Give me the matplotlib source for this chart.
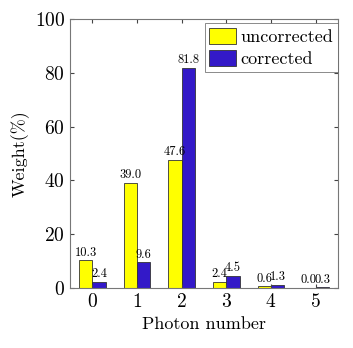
import matplotlib
matplotlib.use("Agg")
import matplotlib.pyplot as plt
import numpy as np

photon_number = [0, 1, 2, 3, 4, 5]
uncorrected = [10.3, 39.0, 47.6, 2.4, 0.6, 0.0]
corrected = [2.4, 9.6, 81.8, 4.5, 1.3, 0.3]

plt.rcParams['font.family'] = 'serif'
plt.rcParams['font.serif'] = ['cmr10']
plt.rcParams['mathtext.fontset'] = 'cm'
plt.rcParams['axes.formatter.use_mathtext'] = True

fig = plt.figure(figsize=(3.53, 3.48), dpi=100)
ax = fig.add_axes([70 / 353, 1 - 288 / 348, 268 / 353, 269 / 348])

x = np.array(photon_number)
w = 0.3
ax.bar(x - w / 2, uncorrected, w, color='#FFFF00', edgecolor='#333333', linewidth=0.6, label='uncorrected')
ax.bar(x + w / 2, corrected, w, color='#3319C8', edgecolor='#333333', linewidth=0.6, label='corrected')

# value labels (they overlap at 4 and 5 in the original too)
for xi, v in zip(x, uncorrected):
    ax.text(xi - w / 2, v + 0.6, '%.1f' % v, ha='center', va='bottom', fontsize=9)
for xi, v in zip(x, corrected):
    ax.text(xi + w / 2, v + 0.6, '%.1f' % v, ha='center', va='bottom', fontsize=9)

ax.set_xlim(-0.5, 5.5)
ax.set_ylim(0, 100)
ax.set_xticks(photon_number)
ax.set_yticks([0, 20, 40, 60, 80, 100])
ax.tick_params(direction='in', top=True, right=True, labelsize=14, length=3, color='#444444')
for s in ax.spines.values():
    s.set_color('#777777')
    s.set_linewidth(0.8)

ax.set_xlabel('Photon number', fontsize=13)
ax.set_ylabel('Weight(%)', fontsize=13)

leg = ax.legend(loc='upper right', bbox_to_anchor=(1.0, 1 - 4 / 269), fontsize=13,
                frameon=True, fancybox=False, edgecolor='#555555', borderpad=0.25,
                handlelength=1.5, handleheight=1.0, handletextpad=0.25,
                labelspacing=0.3, borderaxespad=0.0)
leg.get_frame().set_linewidth(0.6)

fig.savefig('out.png', dpi=100)
